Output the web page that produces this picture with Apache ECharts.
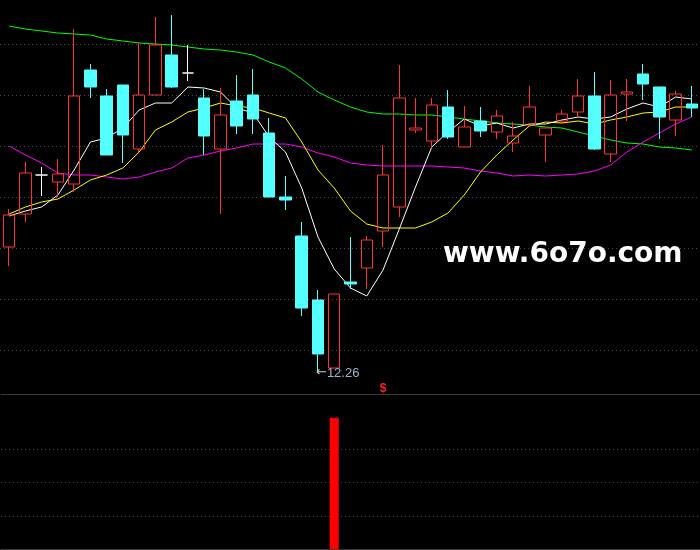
<!DOCTYPE html>
<html>
<head>
<meta charset="utf-8">
<script src="https://cdn.jsdelivr.net/npm/echarts@6/dist/echarts.min.js"></script>
<style>
html,body{margin:0;padding:0;background:#000;}
#chart{width:700px;height:550px;}
</style>
</head>
<body>
<div id="chart"></div>
<script>
const categories = ['1','2','3','4','5','6','7','8','9','10','11','12','13','14','15','16','17','18','19','20','21','22','23','24','25','26','27','28','29','30','31','32','33','34','35','36','37','38','39','40','41','42','43'];
const opens  = [13.52,13.85,14.24,14.17,14.15,15.29,15.03,15.14,14.50,15.04,15.44,15.26,15.01,14.50,14.98,15.04,14.66,14.02,13.63,12.99,12.31,13.17,13.31,13.68,13.92,14.69,14.58,14.92,14.52,14.78,14.67,14.56,14.74,14.64,14.78,14.87,15.03,14.45,15.05,15.25,15.12,14.79,14.95];
const closes = [13.84,14.26,14.24,14.25,15.03,15.12,14.44,14.64,15.04,15.54,15.12,15.26,14.63,14.84,14.73,14.80,14.02,13.99,12.91,12.45,13.05,13.15,13.59,14.24,15.01,14.71,14.94,14.62,14.72,14.68,14.83,14.63,14.92,14.71,14.85,15.03,14.50,15.04,15.07,15.15,14.82,15.05,14.91];
const lows   = [13.33,13.77,14.03,14.02,14.07,15.01,14.44,14.36,14.47,15.04,15.11,15.18,14.44,13.85,14.65,14.65,14.02,13.89,12.83,12.26,12.31,13.10,13.10,13.52,13.82,14.66,14.51,14.60,14.52,14.62,14.60,14.47,14.74,14.37,14.76,14.82,14.49,14.37,14.78,14.99,14.60,14.63,14.82];
const highs  = [13.90,14.37,14.32,14.40,15.70,15.35,15.10,15.14,15.57,15.82,15.84,15.54,15.10,15.11,15.24,15.30,14.81,14.23,13.77,13.09,13.05,13.62,13.63,14.54,15.34,15.01,15.01,15.09,14.93,14.92,14.89,14.77,15.13,14.71,14.89,15.20,15.27,15.19,15.20,15.35,15.12,15.08,15.13];

const ma5  = [13.83,13.88,13.92,14.04,14.29,14.57,14.61,14.71,14.89,14.96,14.96,15.12,15.11,15.07,14.91,14.86,14.62,14.47,14.11,13.62,13.30,13.11,13.03,13.29,13.70,14.12,14.52,14.67,14.80,14.73,14.76,14.71,14.75,14.75,14.79,14.82,14.80,14.82,14.90,14.96,14.92,15.02,15.00];
const ma10 = [13.85,13.92,13.97,14.00,14.09,14.19,14.24,14.31,14.47,14.69,14.77,14.87,14.91,14.96,14.93,14.91,14.86,14.81,14.57,14.29,14.11,13.88,13.75,13.71,13.71,13.71,13.77,13.86,14.04,14.27,14.44,14.59,14.73,14.77,14.76,14.78,14.75,14.79,14.82,14.86,14.87,14.92,14.92];
const ma30 = [14.53,14.44,14.36,14.26,14.24,14.24,14.22,14.20,14.22,14.27,14.31,14.41,14.44,14.48,14.51,14.55,14.55,14.55,14.52,14.46,14.42,14.36,14.34,14.33,14.33,14.33,14.33,14.32,14.31,14.28,14.26,14.23,14.24,14.23,14.24,14.25,14.28,14.34,14.47,14.57,14.66,14.75,14.82];
const ma60 = [15.73,15.70,15.68,15.66,15.65,15.64,15.60,15.58,15.56,15.55,15.54,15.52,15.50,15.49,15.47,15.44,15.37,15.31,15.20,15.07,14.99,14.92,14.87,14.85,14.85,14.84,14.84,14.82,14.80,14.78,14.76,14.75,14.74,14.72,14.71,14.67,14.63,14.59,14.56,14.55,14.52,14.51,14.49];

const signalValues = [0,0,0,0,0,0,0,0,0,0,0,0,0,0,0,0,0,0,0,0,3.95,0,0,0,0,0,0,0,0,0,0,0,0,0,0,0,0,0,0,0,0,0,0];
const lowLabelIndex = 19;
const sellMarkIndex = 23;
const sellMarkLevel = 12.10;

const candleData = categories.map((c, i) => [opens[i], closes[i], lows[i], highs[i]]);

const chart = echarts.init(document.getElementById('chart'), null, {renderer: 'canvas'});

const gridDot = {color: '#4a4a4a', width: 1, type: [1, 3]};

function maSeries(name, data, color) {
  return {
    name: name, type: 'line', data: data,
    xAxisIndex: 0, yAxisIndex: 0,
    showSymbol: false, symbol: 'none', smooth: false,
    lineStyle: {color: color, width: 1},
    z: 2, silent: true
  };
}

const option = {
  backgroundColor: '#000000',
  animation: false,
  grid: [
    {left: 1, right: -1, top: 0, height: 394},
    {left: 0, right: 0, top: 44, height: 306},
    {left: 1, right: -1, top: 416, height: 133}
  ],
  xAxis: [
    {type: 'category', gridIndex: 0, data: categories, boundaryGap: true,
     axisLine: {show: true, lineStyle: {color: '#3a3a3a', width: 1}},
     axisTick: {show: false}, axisLabel: {show: false}, splitLine: {show: false}},
    {type: 'value', gridIndex: 1, min: 0, max: 1, show: false},
    {type: 'category', gridIndex: 2, data: categories, boundaryGap: true,
     axisLine: {show: true, lineStyle: {color: '#3a3a3a', width: 1}},
     axisTick: {show: false}, axisLabel: {show: false}, splitLine: {show: false}}
  ],
  yAxis: [
    {type: 'value', gridIndex: 0, min: 12.05, max: 15.99, scale: true,
     axisLine: {show: false}, axisTick: {show: false}, axisLabel: {show: false}, splitLine: {show: false}},
    {type: 'value', gridIndex: 1, min: 0, max: 6, interval: 1,
     axisLine: {show: false}, axisTick: {show: false}, axisLabel: {show: false},
     splitLine: {show: true, lineStyle: gridDot}},
    {type: 'value', gridIndex: 2, min: 0, max: 4, interval: 1,
     axisLine: {show: false}, axisTick: {show: false}, axisLabel: {show: false},
     splitLine: {show: true, showMinLine: false, showMaxLine: false, lineStyle: gridDot}}
  ],
  series: [
    maSeries('MA60', ma60, '#00ff00'),
    maSeries('MA30', ma30, '#ff00ff'),
    maSeries('MA10', ma10, '#ffff00'),
    maSeries('MA5', ma5, '#ffffff'),
    {
      name: 'K', type: 'candlestick', data: candleData,
      xAxisIndex: 0, yAxisIndex: 0, barWidth: 12, z: 3,
      itemStyle: {
        color: 'transparent', color0: '#54ffff',
        borderColor: '#ff3232', borderColor0: '#54ffff',
        borderColorDoji: '#ffffff', borderWidth: 1
      },
      markPoint: {
        symbol: 'circle', symbolSize: 0, silent: true,
        data: [
          {coord: [lowLabelIndex, lows[lowLabelIndex]], value: lows[lowLabelIndex],
           label: {show: true, position: 'right', distance: -2,
             formatter: p => '{a|\u2190}{b|' + Number(p.value).toFixed(2) + '}',
             rich: {
               a: {color: '#c8c8c8', fontSize: 13, fontFamily: 'DejaVu Sans'},
               b: {color: '#9fb4cc', fontSize: 13, fontFamily: 'Liberation Sans'}
             }}},
          {coord: [sellMarkIndex, sellMarkLevel], value: sellMarkLevel,
           label: {show: true, position: 'inside', formatter: '$',
             color: '#ff2020', fontSize: 12, fontWeight: 'bold', fontFamily: 'Liberation Sans'}}
        ]
      }
    },
    {
      name: 'signal', type: 'bar', data: signalValues,
      xAxisIndex: 2, yAxisIndex: 2, barWidth: 9,
      itemStyle: {color: '#ff0000'}
    }
  ],
  graphic: [
    {type: 'text', left: 443, top: 241, z: 10, silent: true,
     style: {text: 'www.6o7o.com', fill: '#ffffff', font: 'bold 28px "DejaVu Sans"'}}
  ]
};

chart.setOption(option);
</script>
</body>
</html>
